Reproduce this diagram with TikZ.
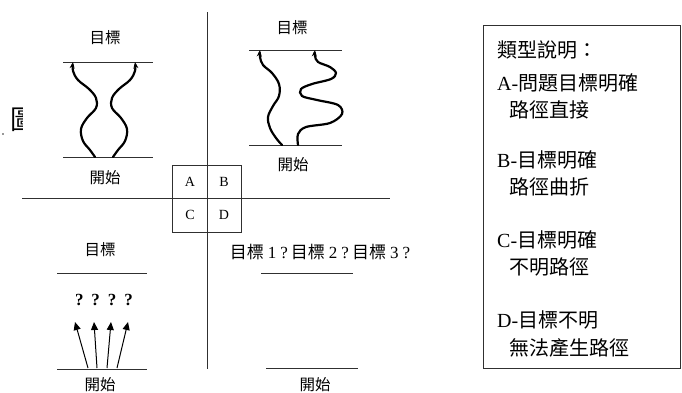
\documentclass[tikz,border=0pt]{standalone}
\usepackage{fontspec}
\setmainfont{Liberation Serif}
\newfontfamily\cjk{Noto Sans CJK TC}
\usetikzlibrary{arrows.meta}
\definecolor{ink}{HTML}{303030}
\tikzset{
  rule/.style={draw=ink, line width=1pt},
  wavy/.style={line width=2.2pt, black, line cap=round, -{Stealth[length=6.5pt,width=5pt]}},
  straightarr/.style={line width=1pt, black, -{Triangle[length=8pt,width=7pt]}},
  lbl/.style={inner sep=0pt, font=\cjk\fontsize{15.5}{17}\selectfont},
  cell/.style={inner sep=0pt, font=\fontsize{14}{16}\selectfont},
  leg/.style={anchor=west, inner sep=0pt, font=\fontsize{20}{22}\selectfont},
}
\begin{document}
\begin{tikzpicture}[x=1pt,y=-1pt]
\useasboundingbox (0,0) rectangle (682,392);
\fill[white] (0,0) rectangle (682,392);

% partial character at the left edge
\begin{scope}
  \clip (0,100) rectangle (22.5,140);
  \node[anchor=west, inner sep=0pt, font=\cjk\fontsize{27}{27}\selectfont] (pic) at (10.5,120) {圖};
\end{scope}
\fill[ink] (3,134) circle (0.8);

% axes
\coordinate (vtop) at (207,12);
\coordinate (vbot) at (207,369);
\coordinate (hl) at (22,198);
\coordinate (hr) at (390,198);
\draw[rule] (vtop) -- (vbot);
\draw[rule] (hl) -- (hr);

% ABCD box
\draw[rule] (172,165) rectangle (241,232);
\node[cell] (A) at (190,182) {A};
\node[cell] (B) at (224,182) {B};
\node[cell] (C) at (190,215) {C};
\node[cell] (D) at (224,215) {D};

% ---------- Quadrant A ----------
\node[lbl] (goalA) at (105,38) {目標};
\coordinate (aTL) at (63,62); \coordinate (aTR) at (153,62);
\coordinate (aBL) at (63,157); \coordinate (aBR) at (153,157);
\draw[rule] (aTL) -- (aTR);
\draw[rule] (aBL) -- (aBR);
\node[lbl] (startA) at (105,178) {開始};
\draw[wavy] plot[smooth, tension=0.6] coordinates {(95,157) (90,150) (83,141) (81,129) (87,118) (96,108) (96,98) (89,89) (78,80) (73,71) (73,62)};
\draw[wavy] plot[smooth, tension=0.6] coordinates {(113,157) (118,150) (125,141) (127,129) (121,118) (112,108) (112,98) (119,89) (130,80) (135,71) (135,62)};

% ---------- Quadrant B ----------
\node[lbl] (goalB) at (292,28) {目標};
\coordinate (bTL) at (249,50); \coordinate (bTR) at (342,50);
\coordinate (bBL) at (249,145); \coordinate (bBR) at (342,145);
\draw[rule] (bTL) -- (bTR);
\draw[rule] (bBL) -- (bBR);
\node[lbl] (startB) at (293,165) {開始};
\draw[wavy] plot[smooth, tension=0.6] coordinates {(282,145) (276,138) (270,128) (268,117) (273,106) (279,96) (279,84) (272,73) (263,65) (260,57) (260,50)};
\draw[wavy] plot[smooth, tension=0.55] coordinates {(298,145) (298,134) (306,127) (330,123) (342,114) (338,105) (317,100) (302,96) (301,89) (312,84) (331,79) (336,73) (330,67) (318,62) (315,56) (315,50)};

% ---------- Quadrant C ----------
\node[lbl] (goalC) at (100,250) {目標};
\coordinate (cTL) at (57,273); \coordinate (cTR) at (147,273);
\coordinate (cBL) at (57,369); \coordinate (cBR) at (147,369);
\draw[rule] (cTL) -- (cTR);
\draw[rule] (cBL) -- (cBR);
\node[inner sep=0pt, font=\bfseries\fontsize{17}{18}\selectfont] (qq) at (104,300) {?\hspace{8pt}?\hspace{8pt}?\hspace{8pt}?};
\coordinate (s1) at (88,368); \coordinate (t1) at (75,322);
\coordinate (s2) at (97,368); \coordinate (t2) at (94,322);
\coordinate (s3) at (107,368); \coordinate (t3) at (111,322);
\coordinate (s4) at (117,368); \coordinate (t4) at (128,322);
\draw[straightarr] (s1) -- (t1);
\draw[straightarr] (s2) -- (t2);
\draw[straightarr] (s3) -- (t3);
\draw[straightarr] (s4) -- (t4);
\node[lbl] (startC) at (100,385) {開始};

% ---------- Quadrant D ----------
\node[inner sep=0pt, font=\fontsize{17}{18}\selectfont] (goalD) at (320,252)
  {{\cjk 目標}\hspace{4pt}1\hspace{4pt}?\hspace{3pt}{\cjk 目標}\hspace{4pt}2\hspace{4pt}?\hspace{3pt}{\cjk 目標}\hspace{4pt}3\hspace{4pt}?};
\coordinate (dTL) at (261,273); \coordinate (dTR) at (353,273);
\coordinate (dBL) at (266,368); \coordinate (dBR) at (358,368);
\draw[rule] (dTL) -- (dTR);
\draw[rule] (dBL) -- (dBR);
\node[lbl] (startD) at (315,385) {開始};

% ---------- Legend ----------
\draw[rule] (483,25) rectangle (680.5,368);
\node[leg] (l0) at (497,50) {{\cjk 類型說明：}};
\node[leg] (l1) at (497,83) {A-{\cjk 問題目標明確}};
\node[leg] (l2) at (509,110) {{\cjk 路徑直接}};
\node[leg] (l3) at (497,160) {B-{\cjk 目標明確}};
\node[leg] (l4) at (509,187) {{\cjk 路徑曲折}};
\node[leg] (l5) at (497,240) {C-{\cjk 目標明確}};
\node[leg] (l6) at (509,267) {{\cjk 不明路徑}};
\node[leg] (l7) at (497,320) {D-{\cjk 目標不明}};
\node[leg] (l8) at (509,348) {{\cjk 無法產生路徑}};
\end{tikzpicture}
\end{document}
